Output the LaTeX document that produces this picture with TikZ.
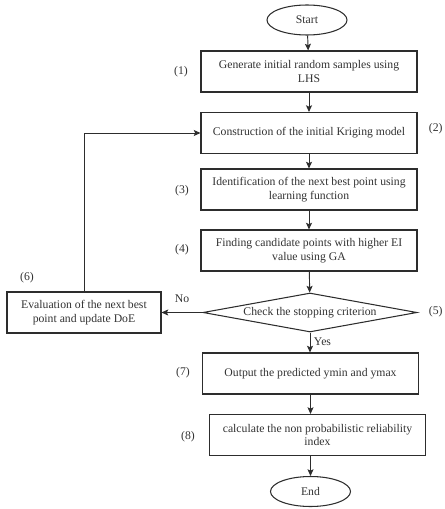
\documentclass[tikz,border=0pt]{standalone}
\usepackage{fontspec}
\setmainfont{Liberation Serif}
\usetikzlibrary{arrows.meta,shapes.geometric}
\definecolor{flowline}{RGB}{45,45,45}
\definecolor{flowtext}{RGB}{50,50,50}

\begin{document}
\begin{tikzpicture}[x=0.03cm, y=-0.03cm,
  font=\fontsize{10}{11.5}\selectfont, text=flowtext,
  stepbox/.style={draw=flowline, line width=0.9pt, align=center,
    minimum width=6.48cm, minimum height=1.23cm, inner sep=0pt},
  terminal/.style={draw=flowline, line width=0.9pt, ellipse,
    minimum width=2.4cm, minimum height=0.9cm, inner sep=0pt},
  decision/.style={draw=flowline, line width=0.9pt, diamond, aspect=5,
    minimum width=6.42cm, minimum height=1.17cm, inner sep=0pt},
  flow/.style={draw=flowline, thick,
    -{Stealth[length=2mm, width=1.8mm, inset=0.4mm]}}]
\useasboundingbox (0,0) rectangle (444,509);
% main column
\node[terminal] (start) at (307,20) {Start};
\node[stepbox] (lhs) at (309,71.5)
  {Generate initial random samples using\\LHS};
\node[stepbox] (kriging) at (309,133)
  {Construction of the initial Kriging model};
\node[stepbox] (learn) at (309,189.5)
  {Identification of the next best point using\\learning function};
\node[stepbox] (ga) at (309,250.5)
  {Finding candidate points with higher EI\\value using GA};
\node[decision] (check) at (310,312.5) {Check the stopping criterion};
\node[stepbox] (predict) at (310.5,373.5)
  {Output the predicted ymin and ymax};
\node[stepbox] (index) at (317.5,435)
  {calculate the non probabilistic reliability\\index};
\node[terminal] (stop) at (310.5,491.5) {End};
% side box
\node[stepbox, minimum width=4.62cm] (update) at (84,312.5)
  {Evaluation of the next best\\point and update DoE};
% step numbers
\foreach \n/\x/\y in {1/181/72, 3/182/191, 4/182/250, 6/27/278,
  7/183/373, 8/188/437}
  \node (num\n) at (\x,\y) {(\n)};
\node[anchor=east, inner sep=1pt] (num2) at (444,129) {(2)};
\node[anchor=east, inner sep=1pt] (num5) at (444,312) {(5)};
% connectors
\draw[flow] (start) -- (lhs);
\draw[flow] (lhs) -- (kriging);
\draw[flow] (kriging) -- (learn);
\draw[flow] (learn) -- (ga);
\draw[flow] (ga) -- (check);
\draw[flow] (check) -- (predict.north -| check.south)
  node[pos=0.45, right, inner sep=3pt] (yes) {Yes};
\draw[flow] (predict.south) -- (predict.south |- index.north);
\draw[flow] (stop.north |- index.south) -- (stop.north);
\draw[flow] (check) -- (update)
  node[pos=0.5, above=5pt] (no) {No};
\draw[flow] (update.north) |- (kriging.west);
\end{tikzpicture}
\end{document}
